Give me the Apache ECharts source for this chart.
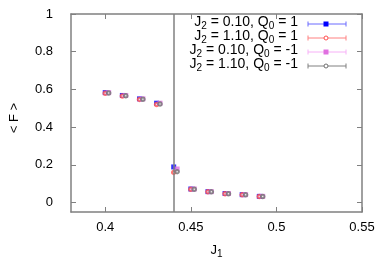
<!DOCTYPE html>
<html><head><meta charset="utf-8">
<script src="https://cdn.jsdelivr.net/npm/echarts@6/dist/echarts.min.js"></script>
<style>html,body{margin:0;padding:0;background:#fff}#c{width:387px;height:271px}</style>
</head><body><div id="c"></div>
<script>
const J1 = [0.40, 0.41, 0.42, 0.43, 0.44, 0.45, 0.46, 0.47, 0.48, 0.49];
const shift = 0.002; // Q0 = -1 points are drawn slightly to the right
const F_J2_010_Q1  = [0.583, 0.568, 0.550, 0.527, 0.189, 0.072, 0.058, 0.048, 0.042, 0.033];
const F_J2_110_Q1  = [0.580, 0.565, 0.547, 0.520, 0.160, 0.070, 0.057, 0.047, 0.041, 0.032];
const F_J2_010_Qm1 = [0.583, 0.568, 0.550, 0.527, 0.178, 0.072, 0.058, 0.048, 0.042, 0.033];
const F_J2_110_Qm1 = [0.581, 0.566, 0.548, 0.523, 0.164, 0.071, 0.057, 0.047, 0.041, 0.032];
const xTicks = [0.40, 0.45, 0.50, 0.55];
const yTicks = [0, 0.2, 0.4, 0.6, 0.8, 1];
const transitionJ1 = 0.44;
const legendNames = [
  ['J', '2', ' = 0.10, Q', '0', ' = 1'],
  ['J', '2', ' = 1.10, Q', '0', ' = 1'],
  ['J', '2', ' = 0.10, Q', '0', ' = -1'],
  ['J', '2', ' = 1.10, Q', '0', ' = -1']
];

const FONT = '"Liberation Sans", Arial, sans-serif';
const AX = '#808080';
const pts = (ys, dx) => J1.map((x, i) => [+(x + dx).toFixed(4), ys[i]]);

const styles = [
  {line: '#6a6aff', sym: 'rect', color: '#0000ff'},
  {line: '#ff8080', sym: 'circle', color: '#ff5050'},
  {line: '#f7b0f7', sym: 'rect', color: '#e070e0'},
  {line: '#808080', sym: 'circle', color: '#707070'}
];

const chart = echarts.init(document.getElementById('c'), null, {renderer: 'canvas'});

function legendGraphic() {
  const els = [];
  legendNames.forEach((n, i) => {
    const y = 24 + i * 14;
    const s = styles[i];
    els.push({type: 'text', right: 387 - 298, top: y - 9, style: {
      text: '{n|' + n[0] + '}{s|' + n[1] + '}{n|' + n[2] + '}{s|' + n[3] + '}{n|' + n[4] + '}',
      rich: {n: {fontSize: 14, fontFamily: FONT, fill: '#000'},
             s: {fontSize: 10, fontFamily: FONT, fill: '#000', padding: [8,0,0,0]}},
      fill: '#000'
    }});
    els.push({type: 'line', shape: {x1: 308, y1: y, x2: 346, y2: y}, style: {stroke: s.line, lineWidth: 1}});
    els.push({type: 'line', shape: {x1: 308, y1: y - 2.5, x2: 308, y2: y + 2.5}, style: {stroke: s.line, lineWidth: 1}});
    els.push({type: 'line', shape: {x1: 346, y1: y - 2.5, x2: 346, y2: y + 2.5}, style: {stroke: s.line, lineWidth: 1}});
    if (s.sym === 'rect') {
      els.push({type: 'rect', shape: {x: 326 - 2.5, y: y - 2.5, width: 5, height: 5}, style: {fill: s.color}});
    } else {
      els.push({type: 'circle', shape: {cx: 326, cy: y, r: 2}, style: {fill: '#fff', stroke: s.color, lineWidth: 1}});
    }
  });
  return els;
}

const xBase = {type: 'value', min: 0.38, max: 0.55, splitLine: {show: false},
  axisLine: {show: true, onZero: false, lineStyle: {color: AX, width: 1.5}},
  axisTick: {show: true, inside: true, length: 5, customValues: xTicks, lineStyle: {color: AX}}};
const yBase = {type: 'value', min: -0.05, max: 1, splitLine: {show: false},
  axisLine: {show: true, onZero: false, lineStyle: {color: AX, width: 1.5}},
  axisTick: {show: true, inside: true, length: 5, customValues: yTicks, lineStyle: {color: AX}}};

chart.setOption({
  animation: false,
  backgroundColor: '#fff',
  grid: {left: 68, right: 25, top: 14, bottom: 59, containLabel: false},
  xAxis: [
    Object.assign({}, xBase, {position: 'bottom',
      name: '{n|J}{s|1}', nameLocation: 'middle', nameGap: 30,
      nameTextStyle: {rich: {n: {fontSize: 13, fontFamily: FONT, color: '#000'}, s: {fontSize: 10, fontFamily: FONT, color: '#000', padding: [7,0,0,0]}}},
      axisLabel: {customValues: xTicks, margin: 9, color: '#000', fontSize: 13, fontFamily: FONT,
        formatter: v => String(+v.toFixed(2))}}),
    Object.assign({}, xBase, {position: 'top', axisLabel: {show: false}})
  ],
  yAxis: [
    Object.assign({}, yBase, {position: 'left',
      name: '< F >', nameLocation: 'middle', nameGap: 50, nameRotate: 90,
      nameTextStyle: {fontSize: 13, fontFamily: FONT, color: '#000', padding: [0,0,0,-10]},
      axisLabel: {customValues: yTicks, margin: 18, color: '#000', fontSize: 13, fontFamily: FONT,
        formatter: v => String(+v.toFixed(1))}}),
    Object.assign({}, yBase, {position: 'right', axisLabel: {show: false}})
  ],
  series: [
    {type: 'scatter', data: [], z: 1, silent: true,
      markLine: {symbol: 'none', silent: true, label: {show: false}, animation: false,
        lineStyle: {color: AX, width: 1.5, type: 'solid'}, data: [{xAxis: transitionJ1}]}},
    {name: 'b', type: 'scatter', z: 2, data: pts(F_J2_010_Q1, 0), symbol: 'rect', symbolSize: 5, itemStyle: {color: '#0000ff'}},
    {name: 'r', type: 'scatter', z: 3, data: pts(F_J2_110_Q1, 0), symbol: 'emptyCircle', symbolSize: 3.5, itemStyle: {color: '#ff5050', borderWidth: 1}},
    {name: 'p', type: 'scatter', z: 4, data: pts(F_J2_010_Qm1, shift), symbol: 'rect', symbolSize: 5, itemStyle: {color: '#e070e0'}},
    {name: 'g', type: 'scatter', z: 5, data: pts(F_J2_110_Qm1, shift), symbol: 'emptyCircle', symbolSize: 3.5, itemStyle: {color: '#707070', borderWidth: 1}}
  ],
  graphic: legendGraphic()
});
</script></body></html>
